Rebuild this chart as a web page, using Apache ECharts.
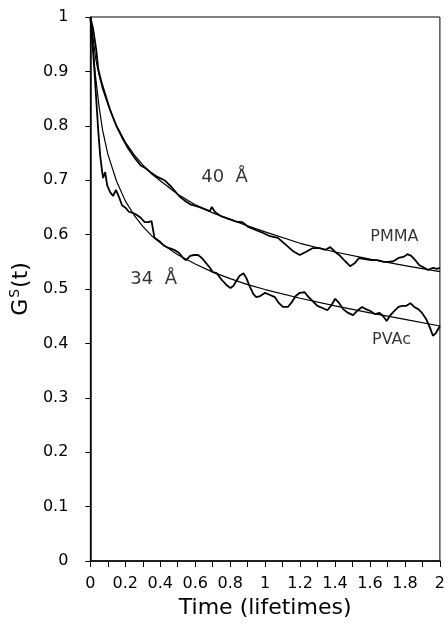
<!DOCTYPE html>
<html>
<head>
<meta charset="utf-8">
<script src="https://cdn.jsdelivr.net/npm/echarts@6/dist/echarts.min.js"></script>
<style>html,body{margin:0;padding:0;background:#fff}#c{width:448px;height:624px}</style>
</head>
<body>
<div id="c"></div>
<script>
// PMMA (40 Å) measured decay: [time (lifetimes), Gs(t)]
const pmmaData = [
[0,1.0],[0.017,0.976],[0.034,0.939],[0.045,0.905],[0.062,0.882],[0.085,0.858],[0.113,0.829],
[0.147,0.801],[0.181,0.779],[0.215,0.759],[0.254,0.741],[0.288,0.727],[0.316,0.722],[0.35,0.713],
[0.384,0.706],[0.424,0.70],[0.463,0.688],[0.508,0.671],[0.542,0.662],[0.576,0.655],[0.621,0.651],
[0.661,0.646],[0.684,0.643],[0.695,0.651],[0.712,0.642],[0.746,0.634],[0.791,0.629],[0.836,0.624],
[0.870,0.623],[0.904,0.614],[0.949,0.608],[0.989,0.603],[1.028,0.597],[1.073,0.594],[1.119,0.581],
[1.158,0.57],[1.198,0.5625],[1.232,0.568],[1.271,0.575],[1.311,0.575],[1.345,0.572],[1.373,0.577],
[1.401,0.568],[1.429,0.561],[1.458,0.551],[1.486,0.542],[1.514,0.548],[1.537,0.557],[1.571,0.555],
[1.605,0.553],[1.644,0.553],[1.678,0.55],[1.706,0.55],[1.734,0.551],[1.763,0.557],[1.791,0.559],
[1.814,0.564],[1.836,0.561],[1.859,0.553],[1.881,0.544],[1.91,0.539],[1.932,0.535],[1.96,0.539],
[1.983,0.537],[2.0,0.539]
];
// PMMA fitted curve
const pmmaFit = [
[0,1.0],[0.01,0.975],[0.02,0.95],[0.03,0.925],[0.04,0.908],[0.05,0.893],[0.07,0.868],[0.1,0.84],
[0.15,0.8],[0.2,0.77],[0.25,0.747],[0.3,0.728],[0.35,0.712],[0.4,0.699],[0.5,0.674],[0.6,0.655],
[0.7,0.64],[0.8,0.628],[0.9,0.616],[1.0,0.605],[1.2,0.584],[1.4,0.568],[1.6,0.555],[1.8,0.543],[2.0,0.532]
];
// PVAc (34 Å) measured decay
const pvacData = [
[0,1.0],[0.011,0.958],[0.023,0.903],[0.034,0.847],[0.045,0.792],[0.056,0.746],[0.068,0.715],
[0.073,0.704],[0.085,0.715],[0.096,0.691],[0.113,0.678],[0.13,0.671],[0.147,0.682],[0.164,0.669],
[0.181,0.654],[0.203,0.649],[0.22,0.642],[0.243,0.64],[0.266,0.636],[0.288,0.631],[0.311,0.623],
[0.333,0.623],[0.35,0.625],[0.367,0.594],[0.395,0.588],[0.424,0.579],[0.452,0.575],[0.48,0.572],
[0.508,0.566],[0.531,0.557],[0.548,0.553],[0.571,0.561],[0.593,0.5625],[0.616,0.5625],[0.638,0.557],
[0.661,0.548],[0.684,0.539],[0.701,0.531],[0.723,0.529],[0.751,0.517],[0.78,0.507],[0.802,0.502],
[0.819,0.506],[0.836,0.515],[0.853,0.524],[0.876,0.529],[0.893,0.52],[0.91,0.506],[0.932,0.491],
[0.949,0.485],[0.972,0.487],[1.0,0.493],[1.028,0.489],[1.056,0.485],[1.079,0.474],[1.102,0.467],
[1.13,0.467],[1.153,0.476],[1.175,0.487],[1.198,0.493],[1.226,0.494],[1.249,0.485],[1.271,0.478],
[1.299,0.469],[1.328,0.465],[1.356,0.461],[1.379,0.47],[1.401,0.482],[1.424,0.474],[1.446,0.463],
[1.475,0.456],[1.503,0.452],[1.531,0.461],[1.554,0.467],[1.576,0.463],[1.599,0.46],[1.627,0.454],
[1.655,0.456],[1.678,0.449],[1.695,0.441],[1.712,0.45],[1.734,0.458],[1.763,0.467],[1.785,0.469],
[1.808,0.469],[1.831,0.474],[1.853,0.467],[1.876,0.463],[1.898,0.456],[1.921,0.445],[1.944,0.428],
[1.96,0.414],[1.977,0.419],[2.0,0.432]
];
// PVAc fitted curve
const pvacFit = [
[0,1.0],[0.01,0.96],[0.02,0.925],[0.03,0.89],[0.05,0.835],[0.07,0.792],[0.1,0.748],[0.15,0.698],
[0.2,0.662],[0.25,0.636],[0.3,0.615],[0.35,0.598],[0.4,0.585],[0.5,0.563],[0.6,0.546],[0.7,0.531],
[0.8,0.519],[0.9,0.508],[1.0,0.499],[1.2,0.483],[1.4,0.469],[1.6,0.456],[1.8,0.444],[2.0,0.432]
];
// annotations: [time, Gs, text]
const annotations = [
[0.768,0.706,'40  Å'],
[0.362,0.517,'34  Å'],
[1.74,0.596,'PMMA'],
[1.723,0.406,'PVAc']
];
const annotationSizes = [18,18,16,16];

const FONT = 'DejaVu Sans';
const chart = echarts.init(document.getElementById('c'));
function fmt(v){ return String(+(+v).toFixed(1)); }
chart.setOption({
  animation:false,
  backgroundColor:'#fff',
  grid:{left:90,right:4,top:17,bottom:63,show:true,borderColor:'#000',borderWidth:1},
  xAxis:{
    type:'value',min:0,max:2,interval:0.1,
    name:'Time (lifetimes)',nameLocation:'middle',nameGap:34,
    nameTextStyle:{fontFamily:FONT,fontSize:22,color:'#000'},
    axisLine:{lineStyle:{color:'#000',width:1.5}},
    axisTick:{show:true,length:6,lineStyle:{color:'#000'}},
    splitLine:{show:false},
    axisLabel:{fontFamily:FONT,fontSize:16,color:'#000',margin:15,showMinLabel:true,showMaxLabel:true,
      formatter:function(v){ return Math.round(v*10)%2===0 ? fmt(v) : ''; }}
  },
  yAxis:{
    type:'value',min:0,max:1,interval:0.1,
    name:'{g|G}{s|S}{g|(t)}',nameLocation:'middle',nameGap:50,nameRotate:90,
    nameTextStyle:{color:'#000',rich:{
      g:{fontFamily:FONT,fontSize:22,color:'#000'},
      s:{fontFamily:FONT,fontSize:14,color:'#000',padding:[0,1,12,1]}
    }},
    axisLine:{lineStyle:{color:'#000',width:1.5}},
    axisTick:{show:true,length:5,lineStyle:{color:'#000'}},
    splitLine:{show:false},
    axisLabel:{fontFamily:FONT,fontSize:16,color:'#000',margin:22,formatter:fmt}
  },
  series:[
    {type:'line',data:pmmaFit,showSymbol:false,lineStyle:{color:'#000',width:1.2},z:2},
    {type:'line',data:pmmaData,showSymbol:false,lineStyle:{color:'#000',width:1.8},z:3},
    {type:'line',data:pvacFit,showSymbol:false,lineStyle:{color:'#000',width:1.2},z:2},
    {type:'line',data:pvacData,showSymbol:false,lineStyle:{color:'#000',width:1.8},z:3},
    {type:'scatter',symbolSize:0,silent:true,
      data:annotations.map(function(a,i){return {value:[a[0],a[1]],
        label:{show:true,position:'inside',formatter:a[2],fontFamily:FONT,fontSize:annotationSizes[i],color:'#000'}};})}
  ]
});
</script>
</body>
</html>
